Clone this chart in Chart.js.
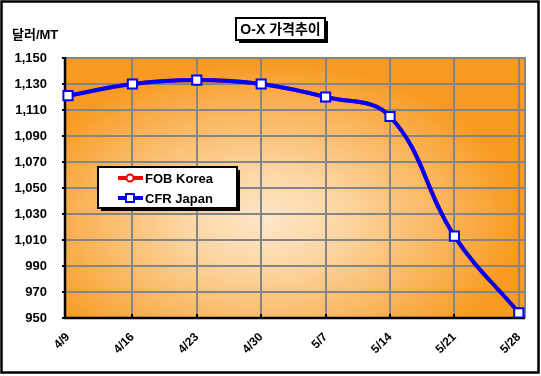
<!DOCTYPE html>
<html><head><meta charset="utf-8">
<script src="https://cdn.jsdelivr.net/npm/chart.js@4/dist/chart.umd.min.js"></script>
<style>html,body{margin:0;padding:0;background:#fff}#wrap{width:541px;height:376px;position:relative}canvas{display:block}</style>
</head><body><div id="wrap"><canvas id="c" width="541" height="376"></canvas></div>
<script>
const categories = ['4/9','4/16','4/23','4/30','5/7','5/14','5/21','5/28'];
const fobKorea = [1121,1130,1133,1130,1120,1105,1013,954];
const cfrJapan = [1121,1130,1133,1130,1120,1105,1013,954];
const seriesNames = ['FOB Korea','CFR Japan'];
const yMin = 950, yMax = 1150, yStep = 20;
const titleText = 'O-X 가격추이';
const unitText = '달러/MT';

const FONT = '"Liberation Sans", Arial, "Noto Sans CJK KR", sans-serif';
const frame = {left:65, right:525, top:58, bottom:318};

const deco = {
  id:'deco',
  beforeDraw(chart){
    const ctx = chart.ctx;
    ctx.save();
    ctx.fillStyle = '#fff'; ctx.fillRect(0,0,chart.width,chart.height);
    ctx.strokeStyle = '#000'; ctx.lineWidth = 2.5;
    ctx.strokeRect(1.5,1.5,537,371);
    ctx.save();
    ctx.beginPath(); ctx.rect(frame.left,frame.top,frame.right-frame.left,frame.bottom-frame.top); ctx.clip();
    ctx.translate(265,220); ctx.scale(1,0.62);
    const g = ctx.createRadialGradient(0,0,0,0,0,255);
    g.addColorStop(0,'#FDE6C8');
    g.addColorStop(0.3,'#FCD6A4');
    g.addColorStop(0.7,'#FAB55C');
    g.addColorStop(1,'#F89A20');
    ctx.fillStyle = g; ctx.fillRect(-600,-600,1200,1200);
    ctx.restore();
    const ys = chart.scales.y, xs = chart.scales.x;
    ctx.strokeStyle = '#858585'; ctx.lineWidth = 2;
    ys.ticks.forEach(t => {
      const y = Math.round(ys.getPixelForValue(t.value));
      ctx.beginPath(); ctx.moveTo(frame.left,y); ctx.lineTo(frame.right,y); ctx.stroke();
    });
    xs.ticks.forEach((t,i) => {
      if (i === 0) return;
      const x = Math.round(xs.getPixelForTick(i));
      ctx.beginPath(); ctx.moveTo(x,frame.top); ctx.lineTo(x,frame.bottom); ctx.stroke();
    });
    ctx.beginPath(); ctx.moveTo(frame.left,frame.top); ctx.lineTo(frame.right,frame.top); ctx.lineTo(frame.right,frame.bottom); ctx.stroke();
    ctx.strokeStyle = '#000'; ctx.lineWidth = 2.5;
    ctx.beginPath(); ctx.moveTo(frame.left,frame.top-1); ctx.lineTo(frame.left,frame.bottom); ctx.lineTo(frame.right,frame.bottom); ctx.stroke();
    ctx.lineWidth = 2;
    ys.ticks.forEach(t => {
      const y = Math.round(ys.getPixelForValue(t.value));
      ctx.beginPath(); ctx.moveTo(frame.left-3,y); ctx.lineTo(frame.left,y); ctx.stroke();
    });
    xs.ticks.forEach((t,i) => {
      if (i === 0) return;
      const x = Math.round(xs.getPixelForTick(i));
      ctx.beginPath(); ctx.moveTo(x,frame.bottom); ctx.lineTo(x,frame.bottom-4); ctx.stroke();
    });
    ctx.restore();
  },
  afterDraw(chart){
    const ctx = chart.ctx;
    ctx.save();
    ctx.fillStyle = '#000';
    ctx.font = 'bold 13px ' + FONT;
    ctx.textAlign = 'left'; ctx.textBaseline = 'middle';
    ctx.fillText(unitText, 12, 35);
    const bx = 236, by = 18, bw = 89, bh = 22;
    ctx.fillStyle = '#000'; ctx.fillRect(bx+3,by+3,bw,bh);
    ctx.fillStyle = '#fff'; ctx.fillRect(bx,by,bw,bh);
    ctx.strokeStyle = '#000'; ctx.lineWidth = 2; ctx.strokeRect(bx,by,bw,bh);
    ctx.fillStyle = '#000';
    ctx.font = 'bold 14px ' + FONT;
    ctx.textAlign = 'center';
    ctx.fillText(titleText, bx + bw/2, by + bh/2 + 1);
    const lx = 98, ly = 167, lw = 139, lh = 41;
    ctx.fillStyle = '#000'; ctx.fillRect(lx+3,ly+3,lw,lh);
    ctx.fillStyle = '#fff'; ctx.fillRect(lx,ly,lw,lh);
    ctx.strokeStyle = '#000'; ctx.lineWidth = 2; ctx.strokeRect(lx,ly,lw,lh);
    seriesNames.forEach((name, k) => {
      const ds = chart.data.datasets.find(d => d.label === name);
      const y = ly + 11 + k*20;
      ctx.strokeStyle = ds.borderColor; ctx.lineWidth = 4;
      ctx.beginPath(); ctx.moveTo(118,y); ctx.lineTo(143,y); ctx.stroke();
      ctx.fillStyle = '#fff'; ctx.lineWidth = 2;
      if (ds.pointStyle === 'rect') {
        ctx.fillRect(126,y-4,8,8); ctx.strokeRect(126,y-4,8,8);
      } else {
        ctx.beginPath(); ctx.arc(130,y,3.5,0,Math.PI*2); ctx.fill(); ctx.stroke();
      }
      ctx.fillStyle = '#000';
      ctx.font = 'bold 13px ' + FONT;
      ctx.textAlign = 'left';
      ctx.fillText(name, 145, y+1);
    });
    ctx.restore();
  }
};

new Chart(document.getElementById('c'), {
  type:'line',
  data:{
    labels: categories,
    datasets:[
      {label:seriesNames[0], data:fobKorea, borderColor:'#FF0000', backgroundColor:'#fff', borderWidth:4,
       pointStyle:'circle', pointRadius:4, pointBorderWidth:2, pointBackgroundColor:'#fff', pointBorderColor:'#FF0000',
       tension:0.4, order:2},
      {label:seriesNames[1], data:cfrJapan, borderColor:'#0000FF', backgroundColor:'#fff', borderWidth:4,
       pointStyle:'rect', pointRadius:6.5, pointBorderWidth:2, pointBackgroundColor:'#fff', pointBorderColor:'#0000FF',
       tension:0.4, order:1}
    ]
  },
  options:{
    responsive:false, animation:false, devicePixelRatio:1,
    layout:{padding:{left:0, top:58, right:21, bottom:0}},
    plugins:{legend:{display:false}, title:{display:false}, tooltip:{enabled:false}},
    scales:{
      x:{type:'category', offset:false, grid:{display:false, drawTicks:false}, border:{display:false},
         ticks:{minRotation:45, maxRotation:45, autoSkip:false, color:'#000', padding:12,
                font:{family:FONT, size:12, weight:'bold'}},
         afterFit(s){ s.height = 58; }},
      y:{min:yMin, max:yMax, grid:{display:false, drawTicks:false}, border:{display:false},
         ticks:{stepSize:yStep, color:'#000', padding:21, font:{family:FONT, size:13, weight:'bold'}},
         afterFit(s){ s.width = 68; }}
    }
  },
  plugins:[deco]
});
</script>
</body></html>
